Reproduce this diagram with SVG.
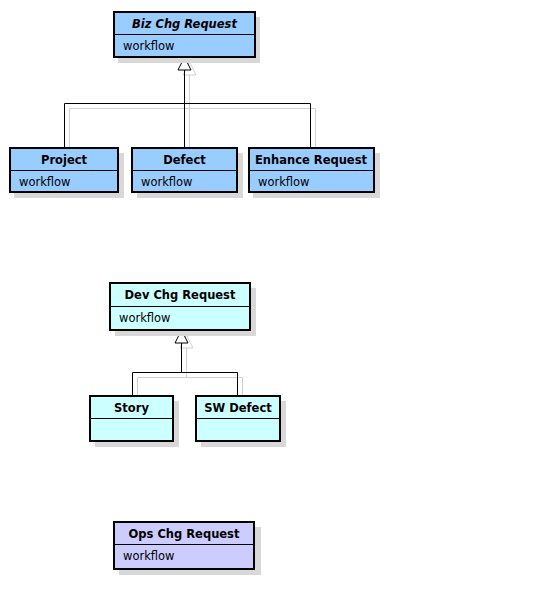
<svg xmlns="http://www.w3.org/2000/svg" width="548" height="591" viewBox="0 0 548 591">
<style>
.sh{fill:#d8d8d8;stroke:none}
.box{stroke:#000;stroke-width:2}
.biz{fill:#99ccff}.dev{fill:#ccffff}.ops{fill:#ccccff}
.div{stroke:#000;stroke-width:1}
.t{font-family:"DejaVu Sans","Liberation Sans",sans-serif;font-size:11.5px;font-weight:bold;text-anchor:middle;fill:#000}
.a{font-family:"DejaVu Sans","Liberation Sans",sans-serif;font-size:11.5px;fill:#000}
.ln{fill:none;stroke:#000;stroke-width:1}
.lns{fill:none;stroke:#d0d0d0;stroke-width:1}
.ar{fill:#fff;stroke:#000;stroke-width:1}
.ars{fill:#fff;stroke:#d0d0d0;stroke-width:1}
</style>
<g id="connectors">
<path class="lns" d="M69.5,192 V108.5 H315.5 V192 M189.5,192 V75"/>
<path class="ars" d="M189.5,62 L183,75 L196,75 Z"/>
<path class="ln" d="M64.5,148 V103.5 H310.5 V148 M184.5,148 V70"/>
<path class="ar" d="M184.5,57 L178,70 L191,70 Z"/>
<path class="lns" d="M137.5,441 V377.5 H242.5 V441 M186.5,377 V348"/>
<path class="ars" d="M186.5,335 L180,348 L193,348 Z"/>
<path class="ln" d="M132.5,396 V372.5 H237.5 V396 M181.5,372 V343"/>
<path class="ar" d="M181.5,330 L175,343 L188,343 Z"/>
</g>
<g id="biz">
<rect class="sh" x="118" y="17" width="142" height="46"/>
<rect class="box biz" x="114" y="12" width="141" height="45"/>
<line class="div" x1="114" y1="34.5" x2="255" y2="34.5"/>
<text class="t" x="184.5" y="28" font-style="italic">Biz Chg Request</text>
<text class="a" x="123" y="50">workflow</text>
</g>
<g id="project">
<rect class="sh" x="14" y="153" width="110" height="45"/>
<rect class="box biz" x="10" y="148" width="108" height="44"/>
<line class="div" x1="10" y1="170.5" x2="118" y2="170.5"/>
<text class="t" x="64" y="164">Project</text>
<text class="a" x="19" y="186">workflow</text>
</g>
<g id="defect">
<rect class="sh" x="137" y="153" width="106" height="45"/>
<rect class="box biz" x="132" y="148" width="105" height="44"/>
<line class="div" x1="132" y1="170.5" x2="237" y2="170.5"/>
<text class="t" x="184.5" y="164">Defect</text>
<text class="a" x="141" y="186">workflow</text>
</g>
<g id="enhance">
<rect class="sh" x="253" y="153" width="127" height="45"/>
<rect class="box biz" x="249" y="148" width="125" height="44"/>
<line class="div" x1="249" y1="170.5" x2="374" y2="170.5"/>
<text class="t" x="311" y="164">Enhance Request</text>
<text class="a" x="258" y="186">workflow</text>
</g>
<g id="devchg">
<rect class="sh" x="115" y="288" width="141" height="48"/>
<rect class="box dev" x="110" y="283" width="140" height="47"/>
<line class="div" x1="110" y1="306.5" x2="250" y2="306.5"/>
<text class="t" x="180" y="299">Dev Chg Request</text>
<text class="a" x="119" y="322">workflow</text>
</g>
<g id="story">
<rect class="sh" x="95" y="401" width="84" height="46"/>
<rect class="box dev" x="90" y="396" width="83" height="45"/>
<line class="div" x1="90" y1="418.5" x2="173" y2="418.5"/>
<text class="t" x="131.5" y="412">Story</text>
</g>
<g id="swdefect">
<rect class="sh" x="201" y="401" width="85" height="46"/>
<rect class="box dev" x="196" y="396" width="84" height="45"/>
<line class="div" x1="196" y1="418.5" x2="280" y2="418.5"/>
<text class="t" x="238" y="412">SW Defect</text>
</g>
<g id="ops">
<rect class="sh" x="119" y="527" width="142" height="48"/>
<rect class="box ops" x="114" y="522" width="140" height="47"/>
<line class="div" x1="114" y1="544.5" x2="254" y2="544.5"/>
<text class="t" x="184" y="538">Ops Chg Request</text>
<text class="a" x="123" y="560">workflow</text>
</g>
</svg>
